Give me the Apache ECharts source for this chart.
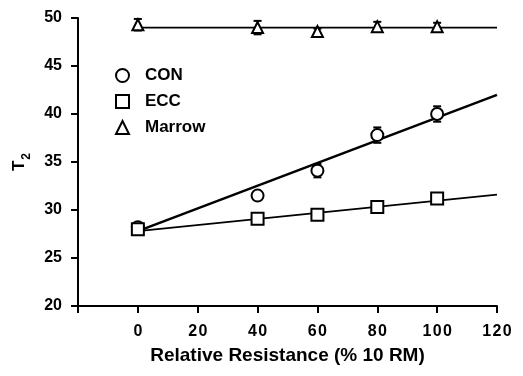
<!DOCTYPE html>
<html><head><meta charset="utf-8">
<script src="https://cdn.jsdelivr.net/npm/echarts@6/dist/echarts.min.js"></script>
<style>html,body{margin:0;padding:0;background:#fff}#c{width:523px;height:376px}</style>
</head><body><div id="c"></div>
<script>
const xValues = [0, 40, 60, 80, 100];
const conValues = [28.2, 31.5, 34.1, 37.8, 40.0];
const conErr = [0.3, 0.3, 0.7, 0.8, 0.8];
const eccValues = [28.0, 29.1, 29.5, 30.3, 31.2];
const eccErr = [0.3, 0.2, 0.3, 0.2, 0.2];
const marrowValues = [49.3, 49.0, 48.6, 49.1, 49.1];
const marrowErr = [0.6, 0.7, 0.3, 0.5, 0.4];
const conFit = [[0, 27.8], [120, 42.0]];
const eccFit = [[0, 27.8], [120, 31.6]];
const marrowFit = [[0, 49.0], [120, 49.0]];
const xTicks = [-20, 0, 20, 40, 60, 80, 100, 120];
const yTicks = [20, 25, 30, 35, 40, 45, 50];

const FONT = '"Liberation Sans", Arial, sans-serif';
function pts(vals){ return xValues.map((x,i)=>[x, vals[i]]); }
function errData(vals, errs){ return xValues.map((x,i)=>[x, vals[i]-errs[i], vals[i]+errs[i]]); }
function errSeries(vals, errs){
  return {
    type:'custom', data: errData(vals, errs), z: 3, silent: true,
    renderItem: function(params, api){
      const lo = api.coord([api.value(0), api.value(1)]);
      const hi = api.coord([api.value(0), api.value(2)]);
      const w = 4;
      const st = {stroke:'#000', lineWidth:2};
      return {type:'group', children:[
        {type:'line', shape:{x1:lo[0],y1:lo[1],x2:hi[0],y2:hi[1]}, style:st},
        {type:'line', shape:{x1:lo[0]-w,y1:lo[1],x2:lo[0]+w,y2:lo[1]}, style:st},
        {type:'line', shape:{x1:hi[0]-w,y1:hi[1],x2:hi[0]+w,y2:hi[1]}, style:st}
      ]};
    }
  };
}
const markerStyle = {color:'#fff', borderColor:'#000', borderWidth:2, opacity:1};
const chart = echarts.init(document.getElementById('c'));
chart.setOption({
  animation:false,
  backgroundColor:'#fff',
  grid:{left:78, right:26, top:18, bottom:70, containLabel:false},
  legend:{
    orient:'vertical', left:110, top:62, itemGap:9, itemWidth:13, itemHeight:13,
    data:[{name:'CON', icon:'circle'},{name:'ECC', icon:'rect'},{name:'Marrow', icon:'triangle'}],
    textStyle:{fontFamily:FONT, fontWeight:'bold', fontSize:17, color:'#000', padding:[0,0,0,11]},
    itemStyle:markerStyle
  },
  xAxis:{
    type:'value', min:-20, max:120, interval:20,
    name:'Relative Resistance (% 10 RM)', nameLocation:'middle', nameGap:40,
    nameTextStyle:{fontFamily:FONT, fontWeight:'bold', fontSize:19, color:'#000'},
    axisLine:{lineStyle:{color:'#000', width:2}},
    axisTick:{inside:false, length:7, lineStyle:{color:'#000', width:2}},
    axisLabel:{fontFamily:FONT, fontWeight:'bold', fontSize:16, color:'#000', margin:18,
      formatter: v => v < 0 ? '' : String(v).split('').join('\u200A')},
    splitLine:{show:false}
  },
  yAxis:{
    type:'value', min:20, max:50, interval:5,
    name:'{t|T}{s|2}', nameLocation:'middle', nameGap:50, nameRotate:90,
    nameTextStyle:{rich:{t:{fontFamily:FONT, fontWeight:'bold', fontSize:17, color:'#000', verticalAlign:'top', lineHeight:17},
      s:{fontFamily:FONT, fontWeight:'bold', fontSize:12, color:'#000', verticalAlign:'top', lineHeight:12, padding:[10,0,0,1]}}},
    axisLine:{show:true, onZero:false, lineStyle:{color:'#000', width:2}},
    axisTick:{show:true, inside:false, length:7, lineStyle:{color:'#000', width:2}},
    axisLabel:{fontFamily:FONT, fontWeight:'bold', fontSize:16, color:'#000', margin:16},
    splitLine:{show:false}
  },
  series:[
    {type:'line', data:conFit, showSymbol:false, symbol:'none', lineStyle:{color:'#000', width:2.5}, z:2, silent:true},
    {type:'line', data:eccFit, showSymbol:false, symbol:'none', lineStyle:{color:'#000', width:1.8}, z:2, silent:true},
    {type:'line', data:marrowFit, showSymbol:false, symbol:'none', lineStyle:{color:'#000', width:1.8}, z:2, silent:true},
    errSeries(conValues, conErr),
    errSeries(eccValues, eccErr),
    errSeries(marrowValues, marrowErr),
    {name:'CON', type:'scatter', data:pts(conValues), symbol:'circle', symbolSize:12, itemStyle:markerStyle, z:5},
    {name:'ECC', type:'scatter', data:pts(eccValues), symbol:'rect', symbolSize:12, itemStyle:markerStyle, z:5},
    {name:'Marrow', type:'scatter', data:pts(marrowValues), symbol:'triangle', symbolSize:11, itemStyle:markerStyle, z:5}
  ]
});
</script></body></html>
